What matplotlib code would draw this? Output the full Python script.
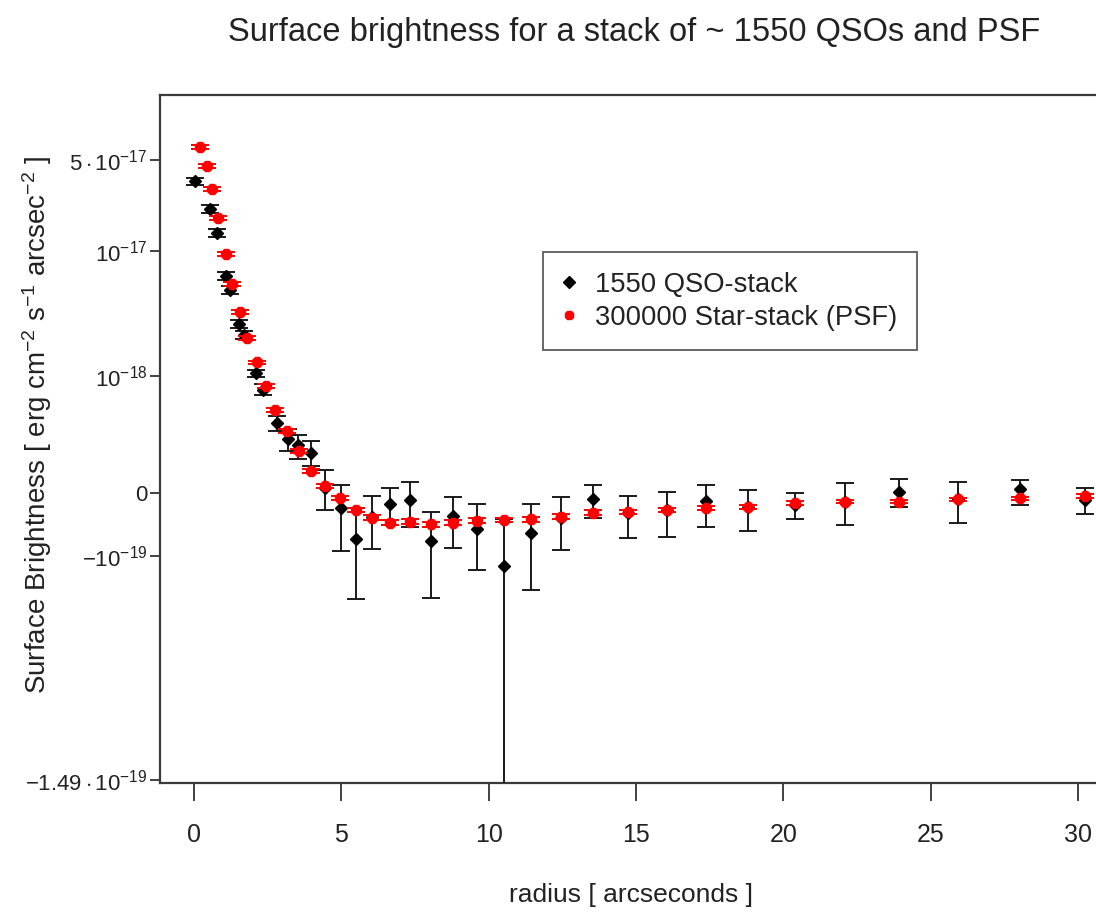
import numpy as np
import matplotlib
matplotlib.use("Agg")
import matplotlib.pyplot as plt
from matplotlib.lines import Line2D

plt.rcParams['font.family'] = ['Liberation Sans', 'DejaVu Sans']
plt.rcParams['mathtext.fontset'] = 'custom'
plt.rcParams['mathtext.rm'] = 'Liberation Sans'
plt.rcParams['mathtext.it'] = 'Liberation Sans:italic'
plt.rcParams['mathtext.bf'] = 'Liberation Sans:bold'

# ---------------- data ----------------
qso_r = [0.03, 0.54, 0.79, 1.07, 1.22, 1.54, 1.71, 2.09, 2.35, 2.83, 3.20, 3.54,
         3.96, 4.45, 4.98, 5.50, 6.03, 6.65, 7.33, 8.03, 8.78, 9.61, 10.53, 11.43,
         12.44, 13.53, 14.74, 16.04, 17.37, 18.81, 20.39, 22.09, 23.93, 25.93,
         28.03, 30.24]
qso_sb = [3.42e-17, 2.11e-17, 1.39e-17, 6.46e-18, 5.03e-18, 2.70e-18, 2.21e-18,
          1.07e-18, 7.54e-19, 3.61e-19, 2.33e-19, 1.94e-19, 1.53e-19, 1.4e-20,
          -3.39e-20, -8.28e-20, -5.08e-20, -2.62e-20, -1.72e-20, -8.47e-20,
          -4.96e-20, -7.04e-20, -1.08e-19, -7.50e-20, -5.36e-20, -1.56e-20,
          -4.42e-20, -3.85e-20, -1.89e-20, -3.19e-20, -2.83e-20, -2.11e-20,
          3.4e-21, -1.56e-20, 1.0e-20, -1.72e-20]
qso_lo = [3.20e-17, 1.97e-17, 1.30e-17, 6.00e-18, 4.68e-18, 2.50e-18, 2.05e-18,
          9.85e-19, 6.79e-19, 2.92e-19, 1.62e-19, 1.20e-19, 9.0e-20, -3.85e-20,
          -9.55e-20, -1.265e-19, -9.38e-20, -6.42e-20, -6.78e-20, -1.261e-19,
          -9.22e-20, -1.109e-19, -1.6e-19, -1.224e-19, -9.45e-20, -5.25e-20,
          -8.19e-20, -8.07e-20, -6.75e-20, -7.23e-20, -5.47e-20, -6.42e-20,
          -3.31e-20, -6.16e-20, -2.83e-20, -4.60e-20]
qso_hi = [3.65e-17, 2.26e-17, 1.49e-17, 6.95e-18, 5.40e-18, 2.90e-18, 2.38e-18,
          1.132e-18, 8.54e-19, 4.28e-19, 3.06e-19, 2.63e-19, 2.22e-19, 7.4e-20,
          2.25e-20, -3.45e-20, -7.6e-21, 1.28e-20, 3.27e-20, -4.29e-20,
          -1.08e-20, -2.62e-20, -5.47e-20, -2.69e-20, -9.4e-21, 2.16e-20,
          -6.9e-21, 1.8e-21, 2.25e-20, 8.1e-21, -8e-22, 2.77e-20,
          4.05e-20, 3.27e-20, 3.82e-20, 1.28e-20]

psf_r = [0.20, 0.43, 0.62, 0.82, 1.08, 1.30, 1.56, 1.79, 2.13, 2.43, 2.75, 3.17,
         3.57, 3.96, 4.43, 4.95, 5.50, 6.03, 6.65, 7.33, 8.03, 8.78, 9.61, 10.53,
         11.43, 12.44, 13.53, 14.74, 16.04, 17.37, 18.81, 20.39, 22.09, 23.93,
         25.93, 28.03, 30.24]
psf_sb = [6.29e-17, 4.49e-17, 2.98e-17, 1.79e-17, 9.50e-18, 5.57e-18, 3.39e-18,
          2.10e-18, 1.31e-18, 8.20e-19, 4.88e-19, 2.92e-19, 1.64e-19, 7.1e-20,
          1.8e-20, -1.32e-20, -3.85e-20, -5.25e-20, -6.06e-20, -5.91e-20,
          -6.31e-20, -6.06e-20, -5.80e-20, -5.64e-20, -5.52e-20, -5.08e-20,
          -4.36e-20, -4.18e-20, -3.85e-20, -3.39e-20, -3.19e-20, -2.47e-20,
          -2.11e-20, -2.11e-20, -1.56e-20, -1.32e-20, -7.6e-21]
psf_err = [2.2e-18, 1.6e-18, 1.0e-18, 6.0e-19, 3.3e-19, 2.0e-19, 1.2e-19,
           7.5e-20, 5.0e-20, 3.4e-20, 2.2e-20, 1.5e-20, 1.1e-20, 8e-21, 6e-21,
           5e-21, 4e-21, 4e-21, 4e-21, 4e-21, 4e-21, 4e-21, 4e-21, 4e-21, 4e-21,
           4e-21, 4e-21, 4e-21, 4e-21, 4e-21, 4e-21, 4e-21, 4e-21, 4e-21, 4e-21,
           4e-21, 4e-21]

ytick_vals = [5e-17, 1e-17, 1e-18, 0.0, -1e-19, -1.49e-19]
ytick_labels = [r'$5\cdot10^{-17}$', r'$10^{-17}$', r'$10^{-18}$', '0',
                r'$-10^{-19}$', r'$-1.49\cdot10^{-19}$']
xtick_vals = [0, 5, 10, 15, 20, 25, 30]

# ---------------- scale ----------------
C = 1.5e-19


def fwd(y):
    y = np.asarray(y, dtype=float)
    return np.log10(np.maximum(y + C, 1e-25))


def inv(h):
    h = np.asarray(h, dtype=float)
    return 10.0 ** h - C


W, H = 1096, 913
fig = plt.figure(figsize=(W / 100, H / 100), dpi=100)
ax = fig.add_axes([160 / W, (H - 783) / H, (1100 - 160) / W, (783 - 95) / H])
ax.set_yscale('function', functions=(fwd, inv))

qso_r_a = np.array(qso_r)
qso_sb_a = np.array(qso_sb)
yerr_q = [qso_sb_a - np.array(qso_lo), np.array(qso_hi) - qso_sb_a]

ax.errorbar(qso_r_a, qso_sb_a, yerr=yerr_q, fmt='D', color='black',
            ecolor='#1a1a1a', elinewidth=1.4, capsize=6.5, capthick=1.4,
            markersize=6.5, zorder=3)
ax.errorbar(psf_r, psf_sb, yerr=psf_err, fmt='8', color='#ff0000',
            ecolor='#ff0000', elinewidth=1.4, capsize=6.5, capthick=1.4,
            markersize=7.5, zorder=4)

ax.set_xlim((160 - 194) / 29.47, (1100 - 194) / 29.47)
ax.set_ylim(-1.4905e-19, 1.552e-16)

ax.set_yticks(ytick_vals)
ax.set_yticklabels(ytick_labels)
ax.yaxis.set_minor_locator(matplotlib.ticker.NullLocator())
ax.set_xticks(xtick_vals)
ax.set_xticklabels([str(v) for v in xtick_vals])

ax.tick_params(axis='y', direction='out', length=7, width=1.3, color='#333333',
               labelsize=16, pad=2, labelcolor='#222222')
ax.tick_params(axis='x', direction='out', length=13, width=1.3, color='#333333',
               labelsize=18, pad=16, labelcolor='#222222')

for s in ['left', 'top', 'bottom', 'right']:
    ax.spines[s].set_color('#3a3a3a')
    ax.spines[s].set_linewidth(1.6)

handles = [
    Line2D([], [], marker='D', color='black', linestyle='none', markersize=6),
    Line2D([], [], marker='8', color='#ff0000', linestyle='none', markersize=7),
]
leg = ax.legend(handles, ['1550 QSO-stack', '300000 Star-stack (PSF)'],
                loc='upper left', bbox_to_anchor=(0.4074, 0.7718),
                borderaxespad=0.0, fontsize=19.7, frameon=True, fancybox=False,
                handlelength=0.5, handletextpad=0.7, borderpad=0.72,
                labelspacing=0.25)
leg.get_frame().set_edgecolor('#333333')
leg.get_frame().set_linewidth(1.3)
for t in leg.get_texts():
    t.set_color('#222222')

fig.text(634 / W, 1 - 32 / H,
         'Surface brightness for a stack of ~ 1550 QSOs and PSF',
         ha='center', va='center', fontsize=23.5, color='#222222')
fig.text(631 / W, 1 - 895 / H, 'radius [ arcseconds ]',
         ha='center', va='center', fontsize=19, color='#222222')
fig.text(37 / W, 1 - 425 / H,
         r'Surface Brightness [ erg cm$^{-2}$ s$^{-1}$ arcsec$^{-2}$ ]',
         ha='center', va='center', rotation=90, fontsize=20, color='#222222')

fig.savefig('out.png', dpi=100)
